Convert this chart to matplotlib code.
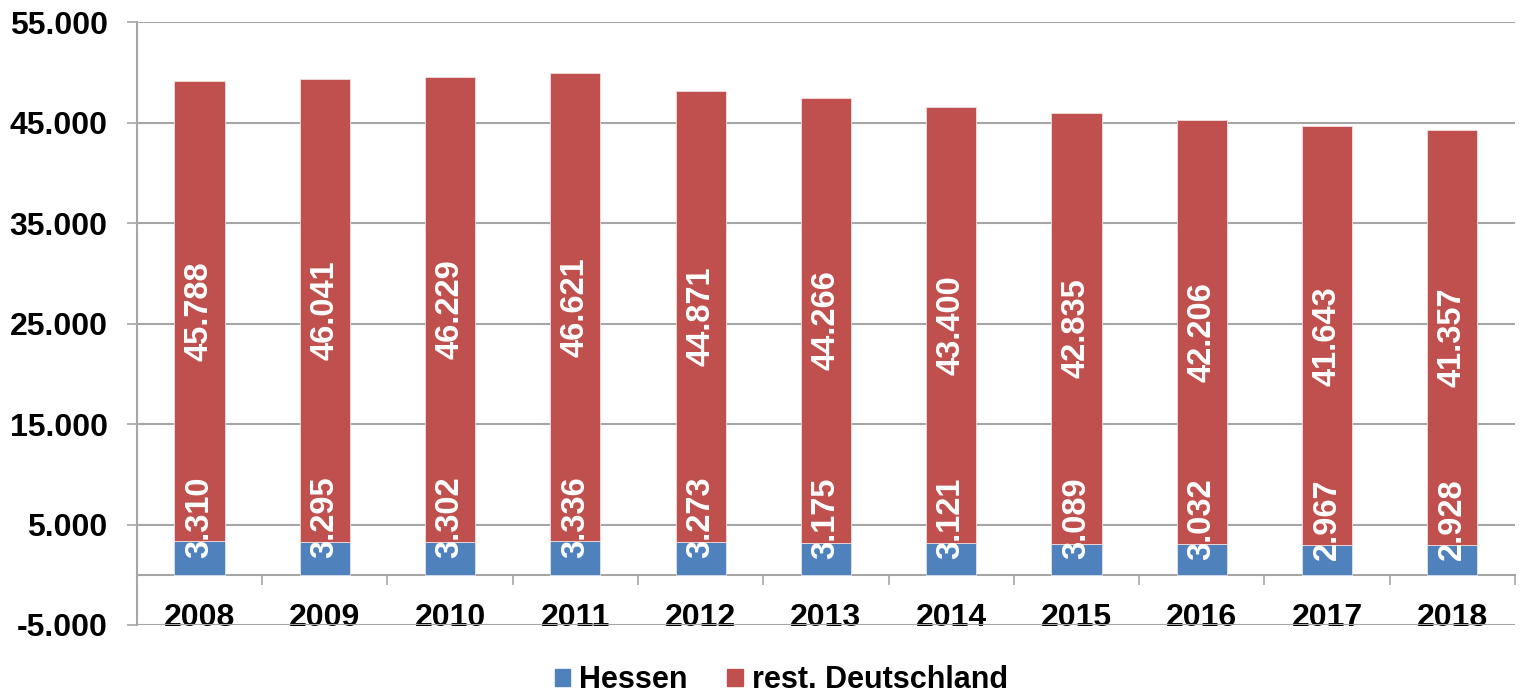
import matplotlib.pyplot as plt
import matplotlib.patches as ptc
from matplotlib.ticker import FixedLocator, FuncFormatter

years = ['2008', '2009', '2010', '2011', '2012', '2013', '2014', '2015', '2016', '2017', '2018']
hessen = [3310, 3295, 3302, 3336, 3273, 3175, 3121, 3089, 3032, 2967, 2928]
rest = [45788, 46041, 46229, 46621, 44871, 44266, 43400, 42835, 42206, 41643, 41357]
y_ticks = [-5000, 5000, 15000, 25000, 35000, 45000, 55000]

BLUE = '#4F81BD'
RED = '#C0504D'
GRID = '#A6A6A6'


def de(v) -> str:
    return '{:,}'.format(int(v)).replace(',', '.')


plt.rcParams['font.family'] = ['Liberation Sans', 'DejaVu Sans']
plt.rcParams['font.weight'] = 'bold'

fig = plt.figure(figsize=(15.2, 6.97), dpi=100)
ax = fig.add_axes([0.090, 0.1033, 0.9067, 0.8651])

x = list(range(len(years)))
ax.bar(x, hessen, width=0.4, color=BLUE, edgecolor='#dfe6f0', linewidth=0.6, zorder=3)
ax.bar(x, rest, width=0.4, bottom=hessen, color=RED, edgecolor='#f0dcdc', linewidth=0.6, zorder=3)

for i, (h, r) in enumerate(zip(hessen, rest)):
    ax.text(i, h / 2, de(h), rotation=90, ha='center', va='bottom',
            color='white', fontsize=23.5, fontweight='bold', zorder=4)
    ax.text(i, h + r / 2, de(r), rotation=90, ha='center', va='center',
            color='white', fontsize=23.5, fontweight='bold', zorder=4)

ax.set_xlim(-0.5, len(years) - 0.5)
ax.set_ylim(-5000, 55000)

ax.yaxis.set_major_locator(FixedLocator(y_ticks))
ax.yaxis.set_major_formatter(FuncFormatter(lambda v, p: de(v)))
ax.yaxis.grid(True, color=GRID, linewidth=1.5, zorder=0)
ax.tick_params(axis='y', direction='out', length=7, width=1.2, color=GRID,
               labelsize=23, pad=14)

ax.spines['bottom'].set_position(('data', 0))
ax.spines['bottom'].set_color(GRID)
ax.spines['bottom'].set_linewidth(1.5)
ax.spines['left'].set_color(GRID)
ax.spines['left'].set_linewidth(1.5)
ax.spines['top'].set_visible(False)
ax.spines['right'].set_visible(False)

ax.set_xticks(x, labels=years)
ax.set_xticks([i + 0.5 for i in range(-1, len(years))], minor=True)
ax.tick_params(axis='x', which='major', length=0, labelsize=23, pad=20)
ax.tick_params(axis='x', which='minor', direction='out', length=7.5, width=1.2, color=GRID)

handles = [ptc.Patch(color=BLUE, label='Hessen'), ptc.Patch(color=RED, label='rest. Deutschland')]
fig.legend(handles=handles, loc='center', bbox_to_anchor=(0.514, 0.024), ncol=2,
           frameon=False, fontsize=22, handlelength=0.5, handleheight=0.5,
           handletextpad=0.3, columnspacing=1.3)

fig.savefig('out.png', dpi=100)
